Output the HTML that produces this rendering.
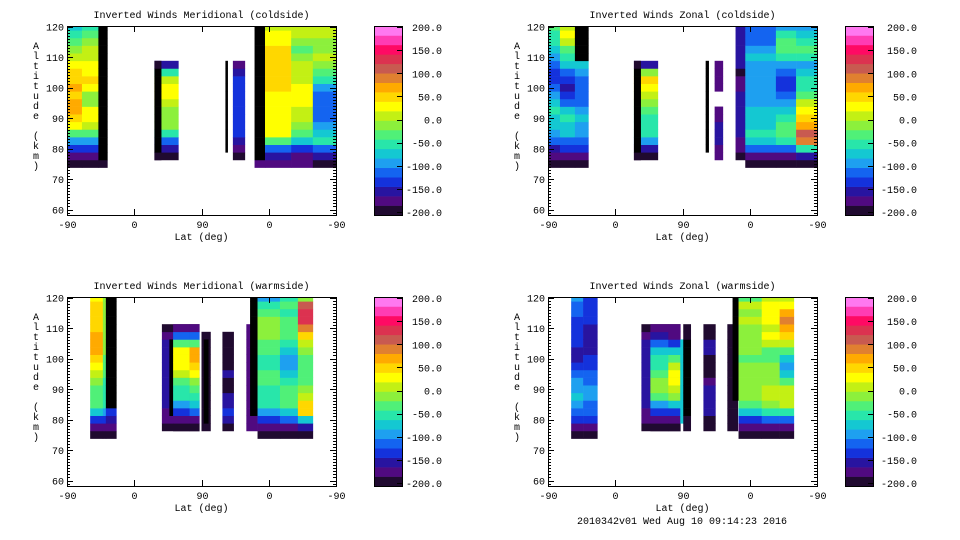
<!DOCTYPE html>
<html><head><meta charset="utf-8"><style>
body{margin:0;background:#fff;}
svg{display:block;font-family:"Liberation Mono",monospace;font-size:10px;}
</style></head><body>
<svg id="chart" width="960" height="540" viewBox="0 0 960 540" xmlns="http://www.w3.org/2000/svg"></svg>
<script>
// ---- data ----
const K = -999; // dense-contour (black) region
const rowAltitudes = [75,77.5,80,82.5,85,87.5,90,92.5,95,97.5,100,102.5,105,107.5,110,112.5,115,117.5,120];
const xTickLabels = ["-90","0","90","0","-90"];
const yTickLabels = [60,70,80,90,100,110,120];
const cbarTickValues = [200,150,100,50,0,-50,-100,-150,-200];
const panelTitles = ["Inverted Winds Meridional (coldside)","Inverted Winds Zonal (coldside)","Inverted Winds Meridional (warmside)","Inverted Winds Zonal (warmside)"];
// segments: [pStart, pEnd, startRow, values...]  (p = 0..360 along -90,0,90,0,-90 axis)
const segTL = [
 [0,20,0,[-190,-170,-140,-100,-40,20,40,60,60,50,60,40,40,30,10,-20,-40,-60,-80]],
 [20,42,0,[-190,-170,-140,-100,-40,10,20,20,-20,-20,20,40,30,20,10,0,-20,-40,-60]],
 [42,54,0,[-190,K,K,K,K,K,K,K,K,K,K,K,K,K,K,K,K,K,K]],
 [117,149,1,[-190,-160,-110,-50,-20,-20,-10,10,20,20,0,-60,-160]],
 [117,126,1,[-190,K,K,K,K,K,K,K,K,K,K,K,-190]],
 [212,215,2,[K,K,K,K,K,K,K,K,K,K,K,K]],
 [222,238,1,[-190,-170,-150,-140,-140,-130,-140,-140,-140,-140,-140,-160,-180]],
 [251,265,0,[-180,K,K,K,K,K,K,K,K,K,K,K,K,K,K,K,K,K,K]],
 [265,300,0,[-180,-160,-120,-40,20,20,30,20,20,30,40,40,40,40,50,40,30,20,0]],
 [300,329,0,[-180,-170,-130,-80,-40,-20,0,10,20,20,20,10,10,0,-20,-40,-20,10,10]],
 [329,360,0,[-190,-160,-110,-60,-80,-100,-120,-110,-110,-120,-100,-60,-40,-20,0,-20,-20,0,0]]
];
const segTR = [
 [0,16,0,[-190,-180,-150,-120,-100,-80,-70,-60,-70,-90,-110,-130,-140,-120,-100,-80,-60,-50,-40]],
 [16,36,0,[-190,-170,-140,-110,-80,-70,-60,-70,-110,-140,-160,-140,-110,-80,-60,-30,0,20,0]],
 [36,54,0,[-190,-170,-140,-120,-100,-90,-80,-90,-110,-120,-120,-110,-100,-80,K,K,K,K,K]],
 [115,147,1,[-190,-150,-100,-60,-50,-50,-40,-20,0,30,50,-20,-150]],
 [115,124,1,[-190,K,K,K,K,K,K,K,K,K,K,K,-190]],
 [211,215,2,[K,K,K,K,K,K,K,K,K,K,K,K]],
 [223,234,1,[-180,-170,-150,-150,-150,-170,-180]],
 [223,234,10,[-180,-170,-170,-180]],
 [251,264,1,[-190,-180,-170,-160,-160,-160,-160,-160,-160,-170,-180,-190,-160,-150,-150,-150,-150,-150]],
 [264,305,0,[-190,-170,-120,-70,-60,-70,-80,-80,-90,-100,-100,-100,-100,-90,-80,-100,-110,-120,-120]],
 [305,332,0,[-190,-170,-110,-60,-30,-40,-60,-80,-100,-110,-130,-130,-110,-90,-60,-40,-30,-60,-90]],
 [332,360,0,[-190,-150,-60,80,100,60,40,20,0,-30,-50,-60,-80,-90,-60,-40,-60,-80,-90]]
];
const segBL = [
 [31,48,0,[-190,-180,-140,-80,-40,-30,-30,-20,0,20,40,60,70,60,50,40,50,40,20]],
 [48,52,0,[-190,-170,-140,-100,-60,-50,-50,-50,-40,-40,-30,-20,-20,-20,-20,-20,-20,-20,-20]],
 [52,66,0,[-190,-170,-150,-140,K,K,K,K,K,K,K,K,K,K,K,K,K,K,K]],
 [127,177,1,[-190,-180,-170,-160,-160,-160,-160,-160,-160,-160,-160,-160,-170,-185]],
 [137,142,3,[K,K,K,K,K,K,K,K,K,K]],
 [142,164,1,[-190,-170,-130,-90,-60,-50,-40,0,20,30,30,-40,-110,-170]],
 [164,177,1,[-190,-170,-120,-80,-60,-40,-20,20,50,60,60,-30,-110,-170]],
 [180,192,1,[-190,-190,-190,-190,-190,-190,-190,-190,-190,-190,-190,-190,-190]],
 [183,189,2,[K,K,K,K,K,K,K,K,K,K,K]],
 [208,223,1,[-190,-150,-140,-150,-160,-190,-190,-150,-190,-190,-190,-190,-190]],
 [240,255,1,[-180,-180,-180,-180,-180,-180,-180,-180,-180,-180,-180,-180,-180,-180]],
 [245,255,3,[K,K,K,K,K,K,K,K,K,K,K,K,K,K,K,K]],
 [255,285,0,[-190,-170,-130,-90,-60,-50,-50,-40,-40,-60,-60,-30,-30,-20,-10,-20,-40,-60,-100]],
 [285,309,0,[-190,-170,-120,-70,-40,-40,-40,-60,-80,-90,-90,-70,-50,-40,-30,-40,-50,-40,-60]],
 [309,329,0,[-190,-160,-80,40,40,10,-20,-40,-40,-40,-30,-10,10,40,80,120,130,100,-20]]
];
const segBR = [
 [31,47,0,[-190,-170,-140,-110,-90,-80,-90,-100,-120,-140,-150,-150,-140,-130,-140,-130,-120,-110,-100]],
 [47,66,0,[-190,-170,-140,-120,-110,-100,-100,-110,-120,-130,-140,-150,-150,-150,-150,-140,-140,-140,-130]],
 [125,177,1,[-190,-180,-170,-160,-160,-160,-160,-160,-160,-160,-160,-160,-170,-185]],
 [137,161,1,[-190,-170,-140,-90,-40,-20,-20,-40,-50,-60,-70,-120,-160,-180]],
 [161,177,1,[-190,-170,-130,-70,-20,0,20,20,0,-30,-80,-130,-170,-180]],
 [177,181,2,[-80,-80,-80,-80,-80,-80,-80,-80,-80,-80,-80]],
 [181,191,1,[-190,-190,K,K,K,K,K,K,K,K,K,K,-190,-190]],
 [208,224,1,[-190,-190,-160,-160,-160,-160,-170,-190,-190,-190,-160,-160,-190,-190]],
 [240,254,1,[-185,-185,-185,-185,-185,-185,-185,-185,-185,-185,-185,-185,-185,-185]],
 [247,255,5,[K,K,K,K,K,K,K,K,K,K,K,K,K,K]],
 [255,286,0,[-190,-170,-130,-80,-40,-20,-20,-20,-20,-10,-40,-20,-10,-20,-20,0,-10,0,-40]],
 [286,310,0,[-190,-170,-120,-60,-20,0,0,-20,-20,-20,-40,-30,0,20,10,20,30,20,0]],
 [310,329,0,[-190,-170,-110,-50,0,10,0,-40,-80,-100,-80,-40,10,40,60,80,60,30,0]]
];
const panelSegments = [segTL, segTR, segBL, segBR];

// ---- styling ----
const bandColors = ["#200a30","#500a80","#2814a0","#1432dc","#1464f0","#1ea0f0","#14c8d2","#28e6aa","#50f078","#8cf03c","#c3f014","#ffff00","#ffd700","#ffaa00","#e08030","#c85a50","#dc3250","#ff0a64","#ff3cb4","#ff78f0"];
function colorOf(v){ if(v===K) return "#000"; let i=Math.floor((v+200)/20); i=Math.max(0,Math.min(19,i)); return bandColors[i]; }
const layout = [{x:67,y:26,cb:374,cbLab:442},{x:548,y:26,cb:845,cbLab:917},{x:67,y:297,cb:374,cbLab:442},{x:548,y:297,cb:845,cbLab:917}];
const W=269,H=189,NS="http://www.w3.org/2000/svg";
const svg=document.getElementById('chart');
function mk(tag,attrs,parent){const e=document.createElementNS(NS,tag);for(const k in attrs)e.setAttribute(k,attrs[k]);(parent||svg).appendChild(e);return e;}

layout.forEach((L,pi)=>{
  const xS=p=>L.x+p*W/360;
  const yS=a=>L.y+(120-a)*3.05+0.5;
  const g=mk('g',{});
  
  
  const cp=mk('clipPath',{id:'cp'+pi},g);
  mk('rect',{x:L.x,y:L.y,width:W,height:H},cp);
  const cells=mk('g',{'clip-path':'url(#cp'+pi+')'},g);
  
  
  panelSegments[pi].forEach(s=>{
    const [p0,p1,r0,vals]=s;
    vals.forEach((v,j)=>{
      const a=rowAltitudes[r0+j];
      const r=mk('rect',{x:xS(p0),y:yS(a+1.25),width:xS(p1)-xS(p0)+0.3,height:yS(a-1.25)-yS(a+1.25)+0.3,fill:colorOf(v)},cells);
      
      
    });
  });
  const fr=mk('rect',{x:L.x+0.5,y:L.y+0.5,width:W,height:H,fill:'none',stroke:'#000'},g);
  
  
  for(let a=59;a<=120;a++){
    const y=Math.round(yS(a))+0.5, len=(a%10===0)?6:3;
    mk('line',{x1:L.x,x2:L.x+len,y1:y,y2:y,stroke:'#000'},g);
    mk('line',{x1:L.x+W,x2:L.x+W-len,y1:y,y2:y,stroke:'#000'},g);
  }
  yTickLabels.forEach(a=>{
    const t=mk('text',{x:L.x-3,y:yS(a)+4,'text-anchor':'end'},g); t.textContent=a;
    
    
  });
  xTickLabels.forEach((lab,i)=>{
    const x=Math.round(xS(i*90))+0.5;
    mk('line',{x1:x,x2:x,y1:L.y+H,y2:L.y+H-6,stroke:'#000'},g);
    mk('line',{x1:x,x2:x,y1:L.y,y2:L.y+6,stroke:'#000'},g);
    const t=mk('text',{x:x,y:L.y+H+13,'text-anchor':'middle'},g); t.textContent=lab;
    
    
  });
  const xt=mk('text',{x:L.x+W/2,y:L.y+H+25,'text-anchor':'middle'},g); xt.textContent='Lat (deg)';
  
  
  const tt=mk('text',{x:L.x+W/2,y:L.y-8,'text-anchor':'middle'},g); tt.textContent=panelTitles[pi];
  
  
  const yt=mk('g',{},g);
  
  
  "Altitude (km)".split('').forEach((c,i)=>{ const t=mk('text',{x:L.x-31,y:L.y+23+i*10,'text-anchor':'middle'},yt); t.textContent=c; });
  const cb=mk('g',{},g);
  
  
  const bh=H/20;
  bandColors.forEach((c,i)=>{ mk('rect',{x:L.cb,y:L.y+H-(i+1)*bh,width:28,height:bh+0.3,fill:c},cb); });
  mk('rect',{x:L.cb+0.5,y:L.y+0.5,width:28,height:H,fill:'none',stroke:'#000'},cb);
  cbarTickValues.forEach(v=>{
    const y=L.y+1+(200-v)/400*(H-4);
    mk('line',{x1:L.cb+28,x2:L.cb+23,y1:Math.round(y)+0.5,y2:Math.round(y)+0.5,stroke:'#000'},cb);
    const t=mk('text',{x:L.cbLab,y:y+4,'text-anchor':'end'},cb); t.textContent=v.toFixed(1);
    
    
  });
});
const ft=mk('text',{x:682,y:524,'text-anchor':'middle'}); ft.textContent='2010342v01 Wed Aug 10 09:14:23 2016';


</script>
</body></html>
